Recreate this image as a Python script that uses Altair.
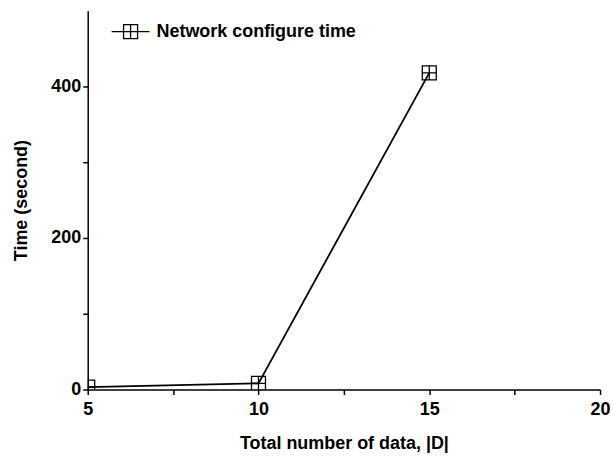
import altair as alt
import pandas as pd

data_size = [5, 10, 15]
config_time = [3, 8, 418]
series_name = ["Network configure time"] * 3

x_ticks = [5, 7.5, 10, 12.5, 15, 17.5, 20]
y_ticks = [0, 100, 200, 300, 400]

df = pd.DataFrame({"n": data_size, "t": config_time, "s": series_name})

FONT = "Liberation Sans"
marker = "M-1,-1H1V1H-1Z M0,-1V1 M-1,0H1"
legend_sym = "M-1,0H1 M-0.37,-0.37H0.37V0.37H-0.37Z M0,-0.37V0.37"

x_enc = alt.X("n:Q", scale=alt.Scale(domain=[5, 20], nice=False, zero=False),
              axis=alt.Axis(values=x_ticks, title="Total number of data, |D|",
                            labelExpr="datum.value % 1 == 0 ? datum.label : ''",
                            labelFlush=False,
                            grid=False, labelPadding=6, titlePadding=16))
y_enc = alt.Y("t:Q", scale=alt.Scale(domain=[0, 500], nice=False),
              axis=alt.Axis(values=y_ticks, title="Time (second)",
                            labelExpr="datum.value % 200 == 0 ? datum.label : ''",
                            labelFlush=False,
                            grid=False, titlePadding=20))
color_enc = alt.Color("s:N", scale=alt.Scale(range=["black"]),
                      legend=alt.Legend(title=None, orient="none", legendX=23, legendY=1,
                                        symbolType=legend_sym, symbolSize=1444,
                                        symbolStrokeColor="black", symbolFillColor="transparent",
                                        symbolStrokeWidth=1.3, labelFont=FONT, labelFontSize=18,
                                        labelFontWeight="bold", labelColor="black", labelLimit=0,
                                        padding=0, labelOffset=6))

line = alt.Chart(df).mark_line(strokeWidth=1.8, clip=True).encode(x=x_enc, y=y_enc, color=color_enc)
pts = alt.Chart(df).mark_point(shape=marker, size=196, filled=False, strokeWidth=1.3,
                               clip=True, opacity=1).encode(x=x_enc, y=y_enc, color=color_enc)

chart = alt.layer(line, pts).properties(
    width=514, height=380,
    padding={"left": 12, "top": 10, "right": 2, "bottom": 0},
).configure_view(stroke=None).configure_axis(
    domainColor="black", domainWidth=1.5, tickColor="black", tickWidth=1.5, tickSize=5,
    labelFont=FONT, labelFontSize=18, labelFontWeight="bold", labelColor="black",
    titleFont=FONT, titleFontSize=18, titleFontWeight="bold", titleColor="black",
)

chart.save("out.html", embed_options={"renderer": "svg", "actions": False})
